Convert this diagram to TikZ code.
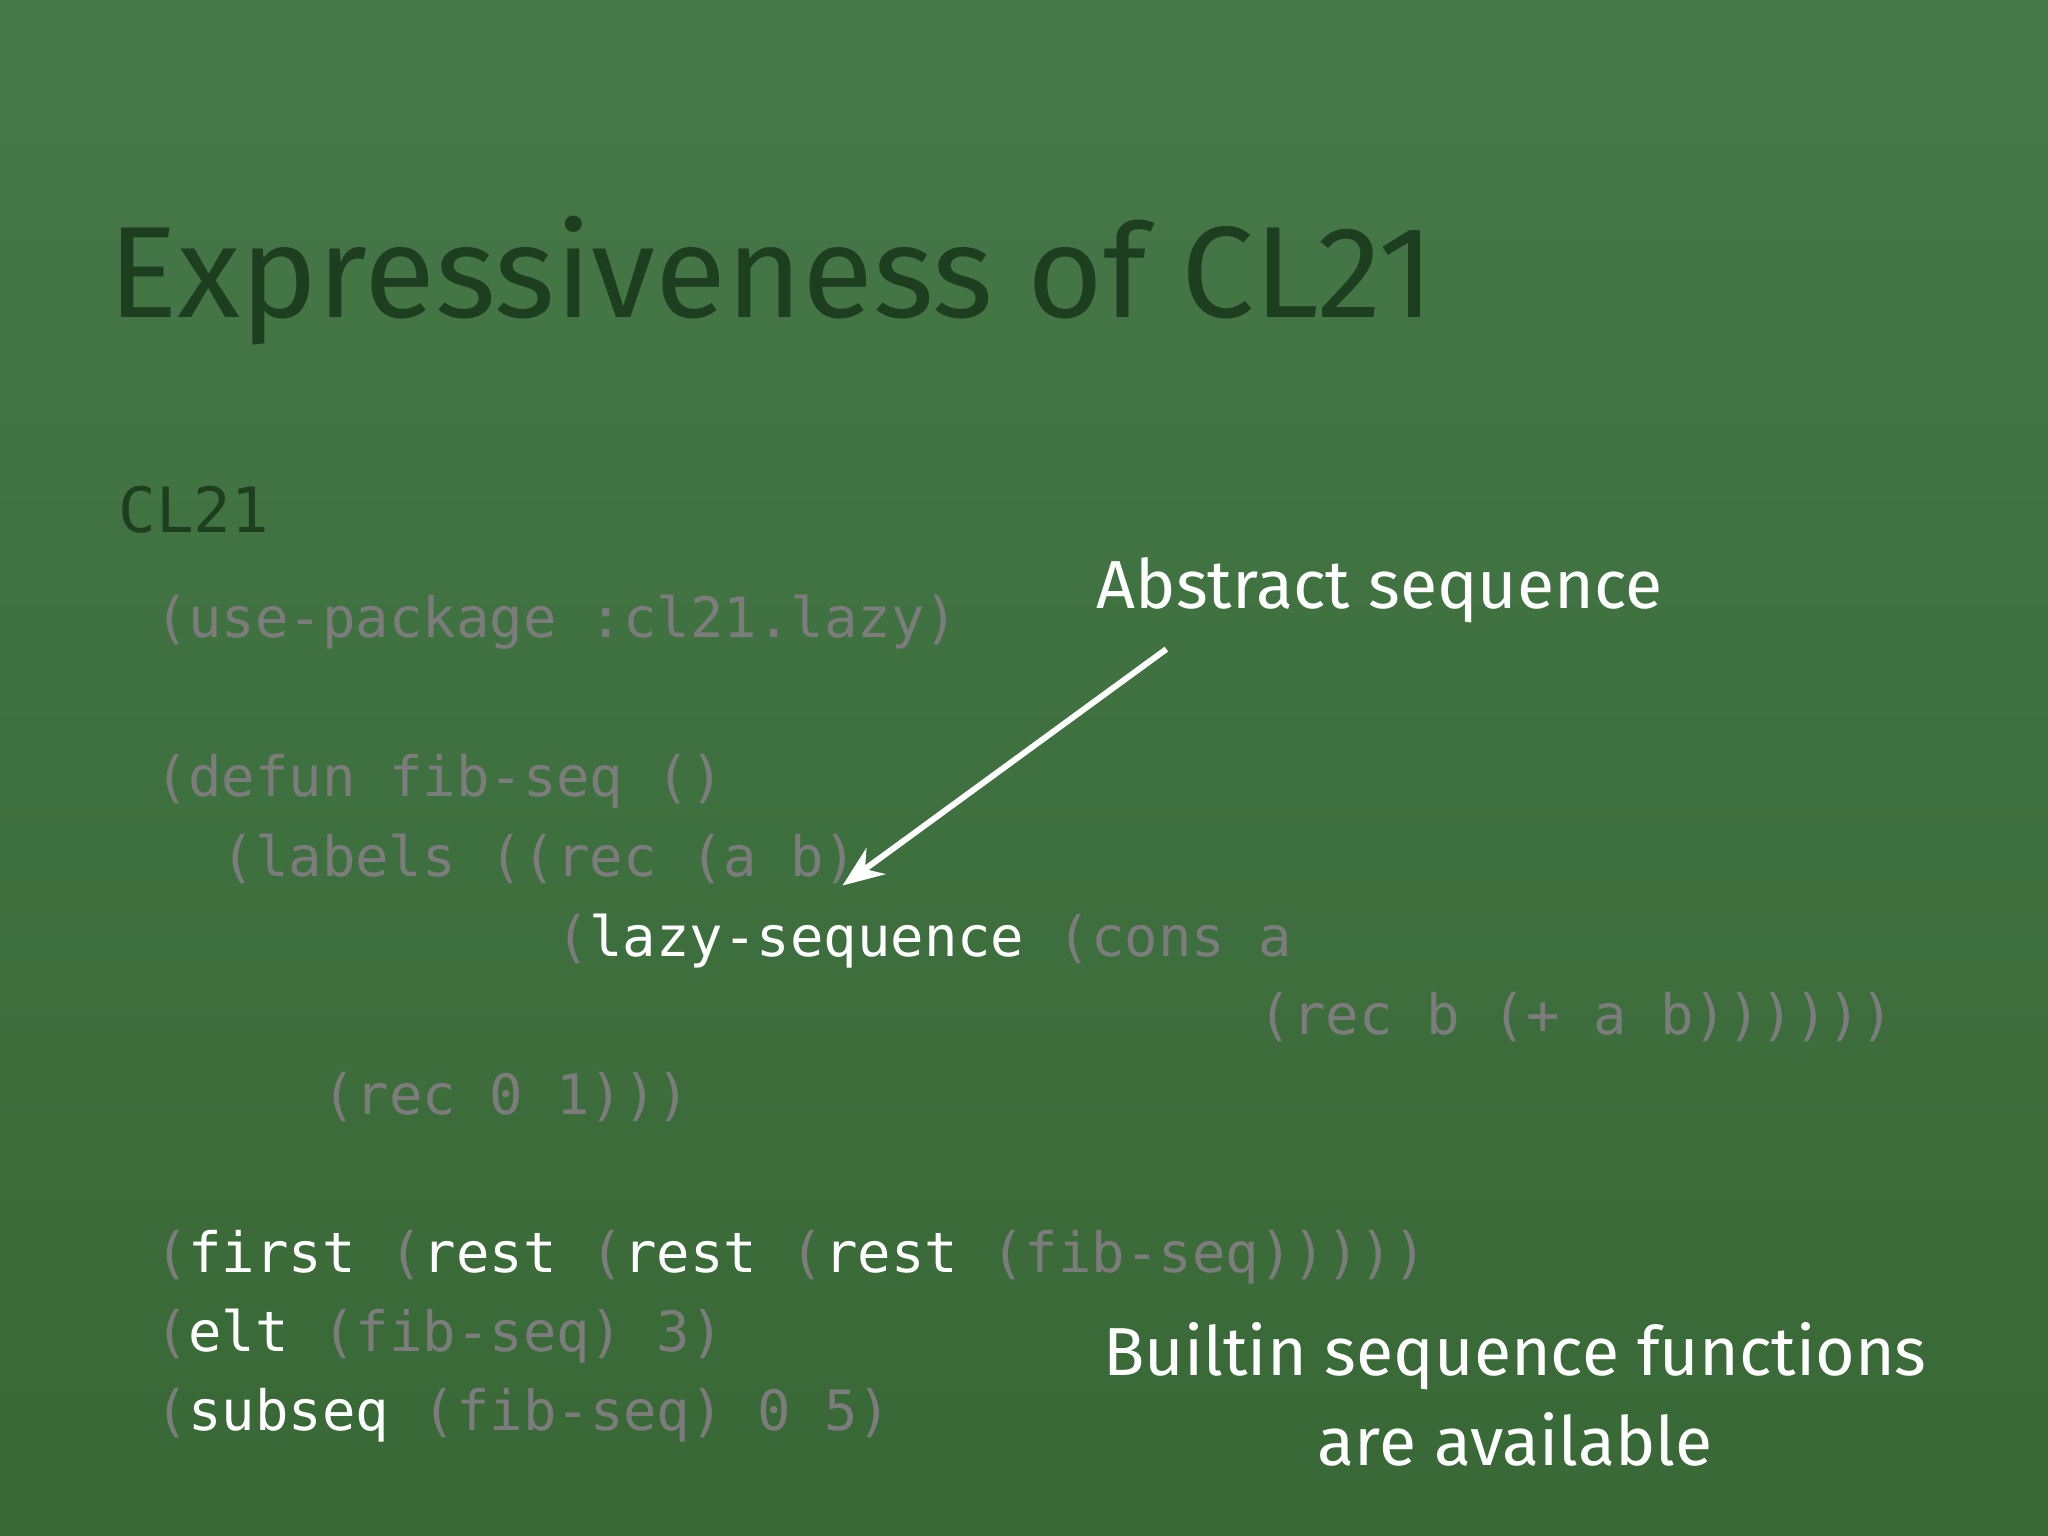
\documentclass[tikz,border=0pt]{standalone}
\usepackage{fontspec}
\setmainfont{Fira Sans}
\newfontfamily\codefont{DejaVu Sans Mono}
\usetikzlibrary{arrows.meta}
\definecolor{bgtop}{HTML}{467849}
\definecolor{bgbot}{HTML}{386835}
\definecolor{titlec}{HTML}{1E3F1F}
\definecolor{codeg}{HTML}{7C7C7C}
\newcommand{\w}[1]{\textcolor{white}{#1}}
\begin{document}
\begin{tikzpicture}[x=0.01cm,y=-0.01cm,
  code/.style={anchor=base west,inner sep=0,text=codeg,font=\codefont\fontsize{12.1}{14}\selectfont},
  note/.style={text=white,inner sep=0,font=\fontsize{14.8}{20}\selectfont}]
\shade[top color=bgtop,bottom color=bgbot] (0,0) rectangle (1568,1176);
\useasboundingbox (0,0) rectangle (1568,1176);
\node[anchor=base west,inner sep=0,text=titlec,font=\fontsize{28.3}{34}\selectfont] (title) at (82,243) {Expressiveness of CL21};
\node[anchor=base west,inner sep=0,text=titlec,font=\codefont\fontsize{13.6}{16}\selectfont] (lang) at (90,408) {CL21};
\node[code] (l1) at (118,488) {(use-package :cl21.lazy)};
\node[code] (l2) at (118,610) {(defun fib-seq ()};
\node[code] (l3) at (169,671) {(labels ((rec (a b)};
\node[code] (l4) at (425,732) {(\w{lazy-sequence} (cons a};
\node[code] (l5) at (963,792) {(rec b (+ a b))))))};
\node[code] (l6) at (246,853) {(rec 0 1)))};
\node[code] (l7) at (118,974) {(\w{first} (\w{rest} (\w{rest} (\w{rest} (fib-seq)))))};
\node[code] (l8) at (118,1035) {(\w{elt} (fib-seq) 3)};
\node[code] (l9) at (118,1095) {(\w{subseq} (fib-seq) 0 5)};
\node[note,anchor=base west] (abs) at (839,466) {Abstract sequence};
\coordinate (tail) at (893,497);
\coordinate (head) at (645,678);
\draw[white,line width=1.3pt,-{Stealth[length=9pt,width=7pt]}] (tail) -- (head);
\node[note,align=center,anchor=north,font=\fontsize{14.8}{19.5}\selectfont] (bsf) at (1160,1012) {Builtin sequence functions\\are available};
\end{tikzpicture}
\end{document}
